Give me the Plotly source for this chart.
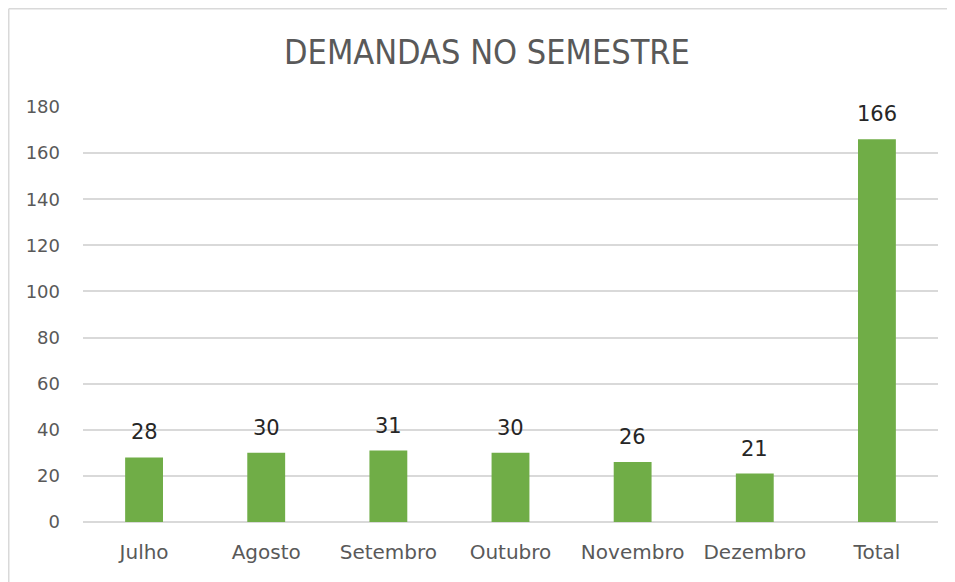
import plotly.graph_objects as go

MESES = ["Julho", "Agosto", "Setembro", "Outubro", "Novembro", "Dezembro", "Total"]
DEMANDAS = [28, 30, 31, 30, 26, 21, 166]
Y_TICKS = [0, 20, 40, 60, 80, 100, 120, 140, 160, 180]

_GREEN = "#70AD47"
_GRAY = "#595959"
_GRID = "#D9D9D9"

# a página tem margem de 8px no body -> figura desenhada a partir de (8, 8)
W, H = 947, 574
L, R, T, B = 75, 17, 99, 60
pw, ph = W - L - R, H - T - B

fig = go.Figure(
    go.Bar(x=MESES, y=DEMANDAS, marker_color=_GREEN, marker_line_width=0,
           hoverinfo="x+y", showlegend=False)
)

# rótulos de dados acima das barras
for m, v in zip(MESES, DEMANDAS):
    fig.add_annotation(x=m, y=v, text=str(v), showarrow=False, yanchor="bottom",
                       yshift=11, font=dict(family="DejaVu Sans", size=21, color="#262626"))

# moldura do gráfico (só topo e esquerda visíveis no recorte)
x_left = (0.75 - L) / pw
y_top = 1 + (T - 0.75) / ph
fig.add_shape(type="line", xref="paper", yref="paper", x0=x_left, x1=(W - L) / pw,
              y0=y_top, y1=y_top, line=dict(color=_GRID, width=1.5))
fig.add_shape(type="line", xref="paper", yref="paper", x0=x_left, x1=x_left,
              y0=-B / ph, y1=y_top, line=dict(color=_GRID, width=1.5))

fig.update_layout(
    width=W, height=H, bargap=0.69,
    plot_bgcolor="white", paper_bgcolor="white",
    margin=dict(l=L, r=R, t=T, b=B),
    title=dict(text="DEMANDAS NO SEMESTRE", x=479 / W, xanchor="center",
               y=1 - 44 / H, yanchor="middle",
               font=dict(family="Liberation Sans Narrow, DejaVu Sans Condensed, Open Sans",
                         size=34, color=_GRAY)),
    font=dict(family="DejaVu Sans", color=_GRAY),
)
fig.update_xaxes(showgrid=False, showline=False, tickfont=dict(size=20, color=_GRAY),
                 ticklabelstandoff=16)
fig.update_yaxes(range=[0, 180], tickvals=Y_TICKS, showgrid=True, gridcolor=_GRID,
                 gridwidth=1.5, zeroline=True, zerolinecolor=_GRID, zerolinewidth=1.5,
                 showline=False, tickfont=dict(size=18, color=_GRAY),
                 ticklabelstandoff=22)

fig.write_html("out.html")
